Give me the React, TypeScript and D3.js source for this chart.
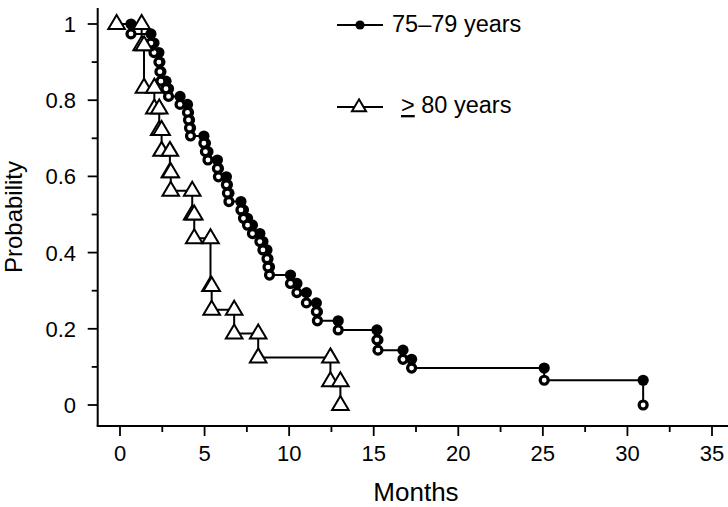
import React from "react";
import * as d3 from "d3";

// ---- data ----
const groupLabels = ["75–79 years", "80 years"];

// 75–79 years: event times (months) and survival after each event
const youngTimes = [0.65, 1.83, 2.01, 2.3, 2.36, 2.42, 2.72, 2.87, 3.55, 3.99, 4.05, 4.11, 4.17, 4.96, 5.05, 5.2, 5.76, 5.82, 6.29, 6.35, 6.44, 7.15, 7.3, 7.54, 7.83, 8.27, 8.45, 8.69, 8.75, 8.84, 10.08, 10.46, 11.02, 11.61, 11.67, 12.9, 15.19, 15.25, 16.73, 17.24, 25.08, 30.93];
const youngSurv = [0.974, 0.95, 0.925, 0.9, 0.875, 0.85, 0.83, 0.81, 0.789, 0.768, 0.748, 0.727, 0.706, 0.687, 0.665, 0.643, 0.621, 0.599, 0.578, 0.556, 0.534, 0.512, 0.49, 0.472, 0.45, 0.429, 0.407, 0.384, 0.362, 0.341, 0.319, 0.295, 0.268, 0.245, 0.221, 0.197, 0.171, 0.144, 0.12, 0.097, 0.065, 0];

// >= 80 years
const oldStart = -0.2;
const oldTimes = [1.28, 1.42, 2.03, 2.32, 2.46, 2.95, 3.0, 4.27, 4.39, 5.35, 5.42, 6.75, 8.17, 12.44, 13.03];
const oldSurv = [0.944, 0.833, 0.778, 0.722, 0.667, 0.611, 0.5625, 0.5, 0.4375, 0.3125, 0.25, 0.1875, 0.125, 0.0625, 0];

const xTicks = [0, 5, 10, 15, 20, 25, 30, 35];
const xMinorTicks = [2.5, 7.5, 12.5, 17.5, 22.5, 27.5, 32.5];
const yTicks = [0, 0.2, 0.4, 0.6, 0.8, 1];
const yMinorTicks = [0.1, 0.3, 0.5, 0.7, 0.9];

// ---- layout ----
const W = 728;
const H = 507;
const x = d3.scaleLinear().domain([0, 35]).range([120, 712]);
const y = d3.scaleLinear().domain([0, 1]).range([405, 24]);
const axisX = 97.7;
const axisY = 426;
const font = "'Liberation Sans', Arial, Helvetica, sans-serif";

function stepPoints(start: number, times: number[], surv: number[]) {
  const pts: [number, number][] = [[start, 1]];
  let prev = 1;
  times.forEach((t, i) => {
    pts.push([t, prev]);
    pts.push([t, surv[i]]);
    prev = surv[i];
  });
  return pts;
}

const line = d3
  .line<[number, number]>()
  .x((d) => x(d[0]))
  .y((d) => y(d[1]));

const triPath = (cx: number, cy: number, s = 1) =>
  `M${cx},${cy - 9 * s}L${cx + 8.3 * s},${cy + 5 * s}L${cx - 8.3 * s},${cy + 5 * s}Z`;

export default function App() {
  const youngPts = stepPoints(0, youngTimes, youngSurv);
  const oldPts = stepPoints(oldStart, oldTimes, oldSurv);

  const youngBefore = youngTimes.map((t, i) => [t, i === 0 ? 1 : youngSurv[i - 1]]);
  const youngAfter = youngTimes.map((t, i) => [t, youngSurv[i]]);
  const oldMarks: number[][] = [[oldStart, 1]];
  oldTimes.forEach((t, i) => {
    oldMarks.push([t, i === 0 ? 1 : oldSurv[i - 1]]);
    oldMarks.push([t, oldSurv[i]]);
  });

  return (
    <svg
      width={W}
      height={H}
      style={{ position: "absolute", left: 0, top: 0, background: "#fff" }}
      fontFamily={font}
    >
      <rect width={W} height={H} fill="#fff" />
      {/* axes */}
      <line x1={axisX} y1={8} x2={axisX} y2={axisY} stroke="#000" strokeWidth={2} />
      <line x1={axisX - 1} y1={axisY} x2={W} y2={axisY} stroke="#000" strokeWidth={2} />
      {yTicks.map((v) => (
        <g key={"yt" + v}>
          <line x1={axisX - 10} x2={axisX} y1={y(v)} y2={y(v)} stroke="#000" strokeWidth={1.8} />
          <text x={76} y={y(v)} dy="0.36em" textAnchor="end" fontSize={22}>
            {d3.format("")(v)}
          </text>
        </g>
      ))}
      {yMinorTicks.map((v) => (
        <line key={"ym" + v} x1={axisX - 6} x2={axisX} y1={y(v)} y2={y(v)} stroke="#000" strokeWidth={1.8} />
      ))}
      {xTicks.map((v) => (
        <g key={"xt" + v}>
          <line x1={x(v)} x2={x(v)} y1={axisY} y2={axisY + 10} stroke="#000" strokeWidth={1.8} />
          <text x={x(v)} y={461} textAnchor="middle" fontSize={22}>
            {v}
          </text>
        </g>
      ))}
      {xMinorTicks.map((v) => (
        <line key={"xm" + v} x1={x(v)} x2={x(v)} y1={axisY} y2={axisY + 6} stroke="#000" strokeWidth={1.8} />
      ))}
      <text x={416} y={501} textAnchor="middle" fontSize={26}>
        Months
      </text>
      <text transform={`translate(22,217) rotate(-90)`} textAnchor="middle" fontSize={24}>
        Probability
      </text>

      {/* 75–79 curve */}
      <path d={line(youngPts) || ""} fill="none" stroke="#000" strokeWidth={2} />
      {youngBefore.map((d, i) => (
        <circle key={"yb" + i} cx={x(d[0])} cy={y(d[1])} r={5.6} fill="#000" />
      ))}
      {youngAfter.map((d, i) => (
        <circle key={"ya" + i} cx={x(d[0])} cy={y(d[1])} r={4} fill="#fff" stroke="#000" strokeWidth={3.2} />
      ))}

      {/* >=80 curve */}
      <path d={line(oldPts) || ""} fill="none" stroke="#000" strokeWidth={2} />
      {oldMarks.map((d, i) => (
        <path key={"om" + i} d={triPath(x(d[0]), y(d[1]))} fill="#fff" stroke="#000" strokeWidth={2} strokeLinejoin="miter" />
      ))}

      {/* legend */}
      <line x1={337} x2={383} y1={25} y2={25} stroke="#000" strokeWidth={2} />
      <circle cx={360} cy={25} r={4.6} fill="#000" />
      <text x={392} y={32} fontSize={23.5}>
        {groupLabels[0]}
      </text>
      <line x1={337} x2={383} y1={107} y2={107} stroke="#000" strokeWidth={2} />
      <path d={triPath(359, 107, 0.85)} fill="#fff" stroke="#000" strokeWidth={2} />
      <text x={401} y={113} fontSize={23.5}>
        <tspan style={{ textDecoration: "underline" }}>&gt;</tspan>
        <tspan>{" " + groupLabels[1]}</tspan>
      </text>
    </svg>
  );
}
